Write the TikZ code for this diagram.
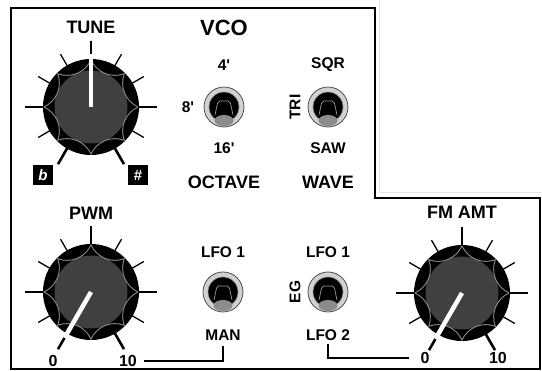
\documentclass[tikz,border=0pt]{standalone}
\usepackage{fontspec}
\setmainfont{Liberation Sans}
\usetikzlibrary{positioning}

\begin{document}
\begin{tikzpicture}[x=1pt,y=1pt,node distance=40pt,on grid,
    knob/.style={circle,fill=black,minimum size=96pt,inner sep=0pt},
    toggle/.style={circle,draw=black!70,fill=black!18,line width=.8pt,minimum size=40pt,inner sep=0pt},
    title/.style={font=\fontsize{18}{18}\selectfont\bfseries},
    lbl/.style={font=\fontsize{15.5}{15.5}\selectfont\bfseries},
    val/.style={font=\fontsize{16}{16}\selectfont\bfseries},
    tag/.style={fill=black,text=white,minimum size=20pt,inner sep=0pt,font=\fontsize{15}{15}\selectfont\bfseries},
    major/.style={line width=2.6pt},
    minor/.style={line width=1.3pt},
    scallop/.style={draw=black!45,line width=.9pt},
    pointer/.style={draw=white,line width=4.5pt},
    wire/.style={line width=1.8pt}]
    \useasboundingbox (0,0) rectangle (542,371);
    % panel
    \draw[black!10,line width=1pt] (379,371) |- (542,178);
    \draw[line width=2pt] (11,363) -- (375,363) -- (375,173) -- (540,173) -- (540,2) -- (11,2) -- cycle;
    % knobs and switches
    \node[knob] (tune) at (91,264) {};
    \node[knob] (pwm) at (91,79) {};
    \node[knob] (fm) at (462,78) {};
    \node[toggle] (oct) at (224,264) {};
    \node[toggle] (wave) at (328,264) {};
    \node[toggle] (lfoa) at (223,79) {};
    \node[toggle] (lfob) at (328,79) {};
    \foreach \k/\a in {tune/90,pwm/240,fm/240}{
      \begin{scope}[shift={(\k)}]
        \foreach \t in {240,180,90,0,-60} \draw[major] (\t:47pt) -- (\t:66pt);
        \foreach \t in {210,150,120,60,30,-30} \draw[minor] (\t:47pt) -- (\t:61pt);
        \fill[black!75] (0,0) circle (36.5pt);
        \draw[scallop] (0:47pt) foreach \s in {0,45,...,315}{ to[bend left=42] ({\s+45}:47pt)};
        \draw[pointer] (0,0) -- (\a:53pt);
      \end{scope}
    }
    \foreach \k in {oct,wave,lfoa,lfob}{
      \begin{scope}[shift={(\k)}]
        \filldraw[fill=black,draw=black!45,line width=.6pt] (0,0) circle (15pt);
        \fill[black!45] (0,-13.5) ellipse (9.5pt and 5.5pt);
        \draw[black!40,line width=.7pt,rounded corners=2pt] (-9,-8) -- (-6,6) -- (6,6) -- (9,-8);
      \end{scope}
    }
    % labels
    \node[title] (tunelbl) [above=80pt of tune] {TUNE};
    \node[tag] (flat) [below left=68pt and 48pt of tune] {\itshape b};
    \node[tag] (sharp) [below right=68pt and 47pt of tune] {\#};
    \node[font=\fontsize{22}{22}\selectfont\bfseries] (vco) [above=79pt of oct] {VCO};
    \node[lbl] (four) [above=42pt of oct] {4\textquotesingle};
    \node[lbl] (eight) [left=36pt of oct] {8\textquotesingle};
    \node[lbl] (sixteen) [below=41pt of oct] {16\textquotesingle};
    \node[title] (octave) [below=75pt of oct] {OCTAVE};
    \node[lbl] (sqr) [above=42pt of wave] {SQR};
    \node[lbl,rotate=90] (tri) [left=33pt of wave] {TRI};
    \node[lbl] (saw) [below=41pt of wave] {SAW};
    \node[title] (wavelbl) [below=75pt of wave] {WAVE};
    \node[title] (pwmlbl) [above=79pt of pwm] {PWM};
    \node[val] (pwmlo) [below left=69pt and 38pt of pwm] {0};
    \node[val] (pwmhi) [below right=69pt and 37pt of pwm] {10};
    \node[lbl] (lfoone) [above=40pt of lfoa] {LFO 1};
    \node[lbl] (man) [below=43pt of lfoa] {MAN};
    \node[lbl] (lfoonb) [above=40pt of lfob] {LFO 1};
    \node[lbl,rotate=90] (eg) [left=33pt of lfob] {EG};
    \node[lbl] (lfotwo) [below=43pt of lfob] {LFO 2};
    \node[title] (fmlbl) [above=81pt of fm] {FM AMT};
    \node[val] (fmlo) [below left=65pt and 37pt of fm] {0};
    \node[val] (fmhi) [below right=65pt and 36pt of fm] {10};
    % routing
    \draw[wire,shorten <=4pt,shorten >=2pt] (pwmhi.east) -| (man.south);
    \draw[wire,shorten >=8pt] (lfotwo.south) |- (fmlo.west);
\end{tikzpicture}
\end{document}
